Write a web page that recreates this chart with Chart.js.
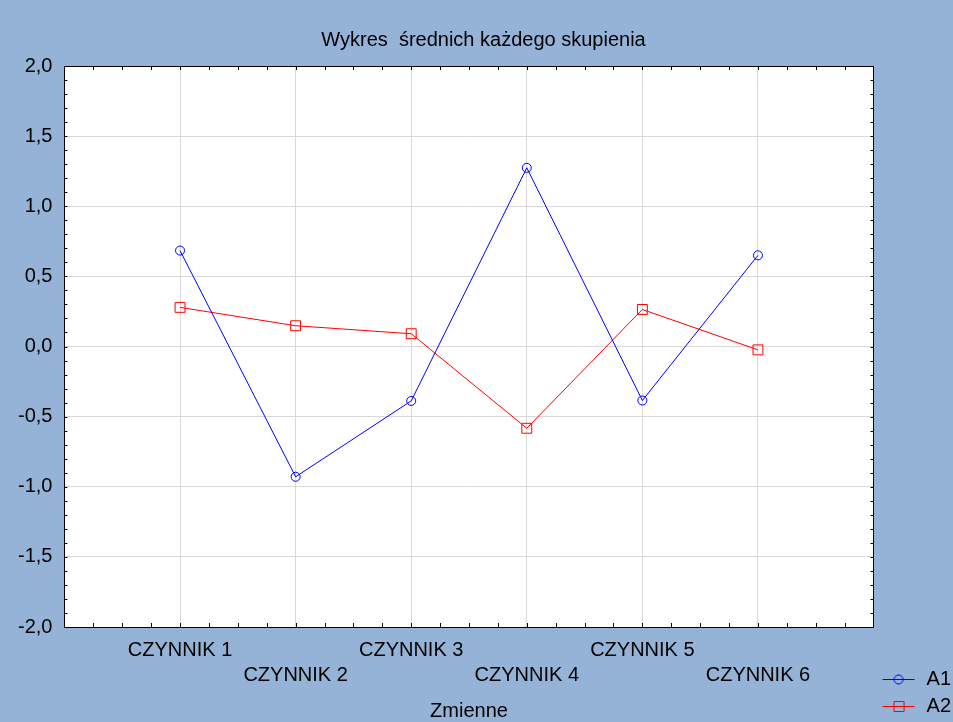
<!DOCTYPE html>
<html>
<head>
<meta charset="utf-8">
<script src="https://cdn.jsdelivr.net/npm/chart.js@4.4.1/dist/chart.umd.min.js"></script>
<style>
    body { margin: 0; background: #95b3d7; }
    #box { width: 953px; height: 722px; }
</style>
</head>
<body>
<div id="box"><canvas id="wykres"></canvas></div>
<script>
// dane
const kategorie = ['CZYNNIK 1', 'CZYNNIK 2', 'CZYNNIK 3', 'CZYNNIK 4', 'CZYNNIK 5', 'CZYNNIK 6'];
const sredniaA1 = [0.684, -0.929, -0.388, 1.274, -0.385, 0.650];
const sredniaA2 = [0.279, 0.148, 0.091, -0.583, 0.264, -0.024];
const osY = { min: -2, max: 2, krok: 0.5 };

Chart.defaults.font.family = '"Liberation Sans", Arial, sans-serif';
Chart.defaults.font.size = 20;
Chart.defaults.color = '#000';

function punkty(wartosci) {
    return wartosci.map((v, i) => ({ x: i + 1, y: v }));
}

// ikonki do legendy: linia z markerem
function ikona(kolor, ksztalt) {
    const c = document.createElement('canvas');
    c.width = 36;
    c.height = 14;
    const g = c.getContext('2d');
    g.strokeStyle = kolor;
    g.lineWidth = 1;
    g.beginPath();
    g.moveTo(2, 7.5);
    g.lineTo(34, 7.5);
    g.stroke();
    g.beginPath();
    if (ksztalt == 'circle') {
        g.arc(18, 7.5, 4.5, 0, Math.PI * 2);
    } else {
        g.rect(13.5, 2.5, 10, 10);
    }
    g.stroke();
    return c;
}
const ikony = [ikona('#0000ff', 'circle'), ikona('#ff0000', 'rect')];

// tlo obszaru wykresu, ramka i drobne znaczniki do srodka
const ramka = {
    id: 'ramka',
    beforeDraw(chart) {
        const a = chart.chartArea;
        const ctx = chart.ctx;
        ctx.save();
        ctx.fillStyle = '#ffffff';
        ctx.fillRect(a.left, a.top, a.right - a.left, a.bottom - a.top);
        ctx.restore();
    },
    afterDraw(chart) {
        const a = chart.chartArea;
        const ctx = chart.ctx;
        const sx = chart.scales.x;
        const sy = chart.scales.y;
        ctx.save();
        ctx.strokeStyle = '#000';
        ctx.lineWidth = 1;
        ctx.beginPath();
        for (let i = 1; i < 28; i++) {
            const px = Math.round(sx.getPixelForValue(i * 0.25)) + 0.5;
            ctx.moveTo(px, a.top);
            ctx.lineTo(px, a.top + 4);
            ctx.moveTo(px, a.bottom);
            ctx.lineTo(px, a.bottom - 4);
        }
        for (let i = 1; i < 40; i++) {
            const py = Math.round(sy.getPixelForValue(osY.min + i * 0.1)) + 0.5;
            ctx.moveTo(a.left, py);
            ctx.lineTo(a.left + 3, py);
            ctx.moveTo(a.right, py);
            ctx.lineTo(a.right - 3, py);
        }
        ctx.stroke();
        ctx.strokeRect(Math.round(a.left) + 0.5, Math.round(a.top) + 0.5,
            Math.round(a.right - a.left), Math.round(a.bottom - a.top));
        ctx.restore();
    }
};

const ctx = document.getElementById('wykres');
new Chart(ctx, {
    type: 'line',
    data: {
        datasets: [{
            label: 'A1',
            data: punkty(sredniaA1),
            borderColor: '#0000ff',
            backgroundColor: 'rgba(0,0,0,0)',
            borderWidth: 1,
            pointStyle: 'circle',
            pointRadius: 4.5,
            pointBorderWidth: 1,
            pointHoverRadius: 4.5
        },
        {
            label: 'A2',
            data: punkty(sredniaA2),
            borderColor: '#ff0000',
            backgroundColor: 'rgba(0,0,0,0)',
            borderWidth: 1,
            pointStyle: 'rect',
            pointRadius: 7,
            pointBorderWidth: 1,
            pointHoverRadius: 7
        }]
    },
    plugins: [ramka],
    options: {
        responsive: true,
        maintainAspectRatio: false,
        animation: false,
        layout: {
            padding: { left: 6, right: -8, top: 0, bottom: -1 }
        },
        scales: {
            x: {
                type: 'linear',
                min: 0,
                max: 7,
                border: { display: false },
                grid: {
                    drawTicks: false,
                    color: (c) => (c.tick && c.tick.value > 0 && c.tick.value < 7) ? '#d9d9d9' : 'rgba(0,0,0,0)'
                },
                ticks: {
                    stepSize: 1,
                    padding: 11,
                    autoSkip: false,
                    maxRotation: 0,
                    font: { size: 20, lineHeight: 1.25 },
                    callback: function (v) {
                        const nazwa = kategorie[v - 1];
                        if (!nazwa) return '';
                        return (v % 2 == 1) ? nazwa : ['', nazwa];
                    }
                },
                title: {
                    display: true,
                    text: 'Zmienne',
                    font: { size: 20 },
                    padding: { top: 0, bottom: 0 }
                }
            },
            y: {
                min: osY.min,
                max: osY.max,
                border: { display: false },
                grid: {
                    drawTicks: false,
                    color: (c) => (c.tick && Math.abs(c.tick.value) < 2) ? '#d9d9d9' : 'rgba(0,0,0,0)'
                },
                ticks: {
                    stepSize: osY.krok,
                    padding: 12,
                    callback: (v) => v.toFixed(1).replace('.', ',')
                }
            }
        },
        plugins: {
            title: {
                display: true,
                text: 'Wykres  średnich każdego skupienia',
                color: '#000',
                font: { size: 20, weight: 'normal' },
                padding: { top: 28, bottom: 14 }
            },
            legend: {
                position: 'right',
                align: 'end',
                labels: {
                    usePointStyle: true,
                    pointStyleWidth: 36,
                    padding: 7,
                    color: '#000',
                    font: { size: 20, lineHeight: 1.1 },
                    generateLabels: function (chart) {
                        const items = Chart.defaults.plugins.legend.labels.generateLabels(chart);
                        items.forEach((it, i) => { it.pointStyle = ikony[i]; });
                        return items;
                    }
                }
            },
            tooltip: { enabled: false }
        }
    }
});
</script>
</body>
</html>
